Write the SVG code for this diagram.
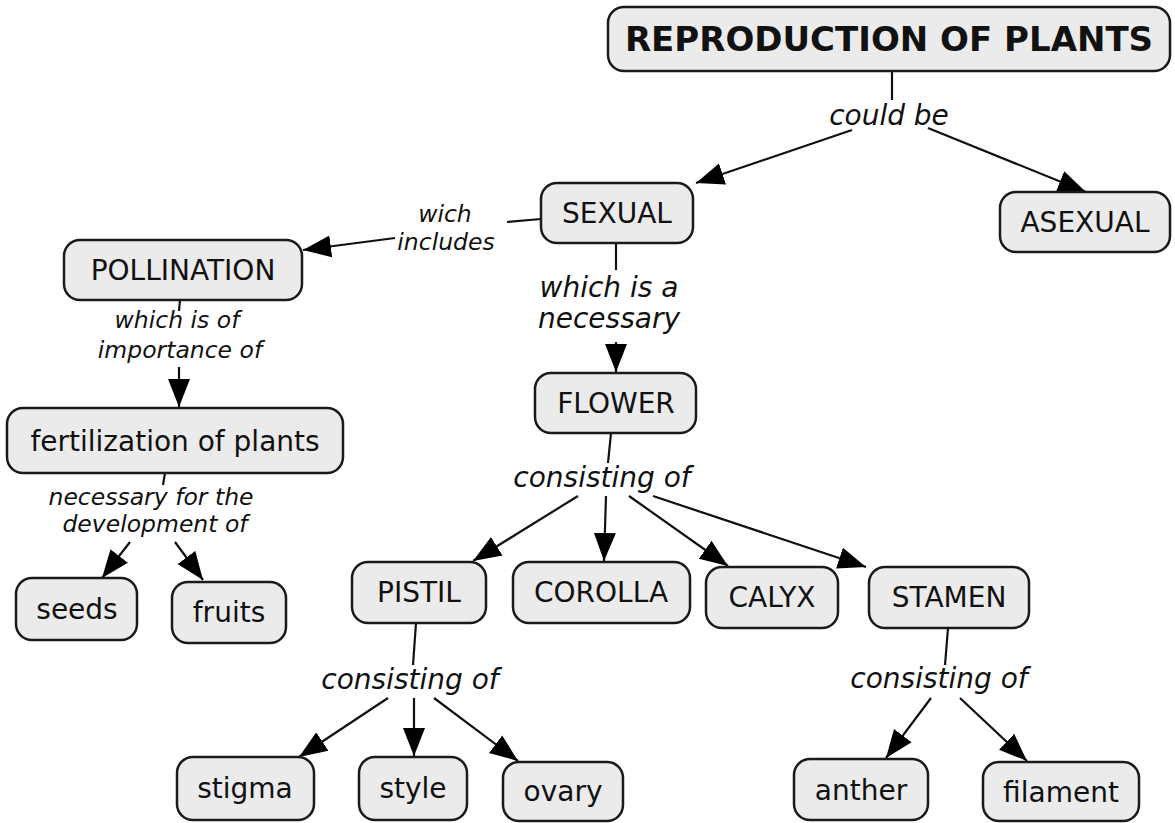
<svg xmlns="http://www.w3.org/2000/svg" width="1175" height="823" viewBox="0 0 1175 823">
<style>
.node rect{fill:#ebebeb;stroke:#1a1a1a;stroke-width:2.5}
.node text{font-family:"DejaVu Sans",Verdana,sans-serif;font-size:28px;fill:#111;text-anchor:middle}
.title text{font-weight:bold;font-size:34px}
.lbl{font-family:"DejaVu Sans",Verdana,sans-serif;font-style:italic;fill:#111;text-anchor:middle}
.l28{font-size:28px}
.l22{font-size:23.5px}
#connectors line{stroke:#111;stroke-width:2.2;fill:none}
#connectors line.arr{marker-end:url(#ah)}
</style>
<defs>
<marker id="ah" markerUnits="userSpaceOnUse" markerWidth="29" markerHeight="24" refX="28" refY="12" orient="auto">
<path d="M0,1 L28,12 L0,23 z" fill="#000"/>
</marker>
</defs>
<rect width="1175" height="823" fill="#fff"/>
<g id="connectors">
<line x1="892" y1="71" x2="892" y2="100"/>
<line class="arr" x1="852" y1="130" x2="696" y2="183"/>
<line class="arr" x1="928" y1="128" x2="1086" y2="192"/>
<line x1="541" y1="219" x2="507" y2="222"/>
<line class="arr" x1="395" y1="238" x2="303" y2="250"/>
<line x1="616" y1="243" x2="616" y2="270"/>
<line class="arr" x1="616" y1="342" x2="616" y2="372"/>
<line x1="180" y1="300" x2="179" y2="311"/>
<line class="arr" x1="179" y1="367" x2="179" y2="407"/>
<line x1="165" y1="473" x2="163" y2="485"/>
<line class="arr" x1="130" y1="542" x2="102" y2="578"/>
<line class="arr" x1="175" y1="542" x2="203" y2="580"/>
<line x1="611" y1="433" x2="608" y2="463"/>
<line class="arr" x1="578" y1="496" x2="473" y2="561"/>
<line class="arr" x1="606" y1="496" x2="604" y2="561"/>
<line class="arr" x1="629" y1="496" x2="728" y2="566"/>
<line class="arr" x1="653" y1="496" x2="866" y2="567"/>
<line x1="416" y1="623" x2="413" y2="665"/>
<line class="arr" x1="388" y1="698" x2="299" y2="757"/>
<line class="arr" x1="414" y1="698" x2="414" y2="756"/>
<line class="arr" x1="434" y1="698" x2="518" y2="761"/>
<line x1="948" y1="628" x2="945" y2="665"/>
<line class="arr" x1="931" y1="698" x2="886" y2="758"/>
<line class="arr" x1="960" y1="698" x2="1027" y2="761"/>
</g>
<g id="link-labels">
<text class="lbl l28" x="889" y="125">could be</text>
<text class="lbl l22" x="445" y="222">wich</text>
<text class="lbl l22" x="446" y="250">includes</text>
<text class="lbl l28" x="609" y="297">which is a</text>
<text class="lbl l28" x="609" y="328">necessary</text>
<text class="lbl l22" x="177" y="328">which is of</text>
<text class="lbl l22" x="180" y="358">importance of</text>
<text class="lbl l22" x="151" y="505">necessary for the</text>
<text class="lbl l22" x="155" y="532">development of</text>
<text class="lbl l28" x="602" y="487">consisting of</text>
<text class="lbl l28" x="410" y="689">consisting of</text>
<text class="lbl l28" x="939" y="688">consisting of</text>
</g>
<g id="n-title" class="node title"><rect x="608" y="7" width="562" height="64" rx="16"/><text x="889" y="51">REPRODUCTION OF PLANTS</text></g>
<g id="n-sexual" class="node"><rect x="541" y="183" width="152" height="60" rx="16"/><text x="617" y="223">SEXUAL</text></g>
<g id="n-asexual" class="node"><rect x="1000" y="192" width="170" height="60" rx="16"/><text x="1085" y="232">ASEXUAL</text></g>
<g id="n-pollination" class="node"><rect x="64" y="240" width="238" height="60" rx="16"/><text x="183" y="280">POLLINATION</text></g>
<g id="n-fertilization" class="node"><rect x="7" y="408" width="336" height="65" rx="16"/><text x="175" y="451">fertilization of plants</text></g>
<g id="n-seeds" class="node"><rect x="16" y="578" width="121" height="62" rx="16"/><text x="77" y="619">seeds</text></g>
<g id="n-fruits" class="node"><rect x="172" y="582" width="114" height="61" rx="16"/><text x="229" y="622">fruits</text></g>
<g id="n-flower" class="node"><rect x="535" y="373" width="161" height="60" rx="16"/><text x="616" y="413">FLOWER</text></g>
<g id="n-pistil" class="node"><rect x="352" y="562" width="134" height="61" rx="16"/><text x="419" y="602">PISTIL</text></g>
<g id="n-corolla" class="node"><rect x="513" y="562" width="177" height="61" rx="16"/><text x="601" y="602">COROLLA</text></g>
<g id="n-calyx" class="node"><rect x="706" y="567" width="132" height="61" rx="16"/><text x="772" y="607">CALYX</text></g>
<g id="n-stamen" class="node"><rect x="869" y="567" width="160" height="61" rx="16"/><text x="949" y="607">STAMEN</text></g>
<g id="n-stigma" class="node"><rect x="177" y="757" width="137" height="63" rx="16"/><text x="245" y="798">stigma</text></g>
<g id="n-style" class="node"><rect x="359" y="757" width="108" height="63" rx="16"/><text x="413" y="798">style</text></g>
<g id="n-ovary" class="node"><rect x="503" y="762" width="120" height="59" rx="16"/><text x="563" y="801">ovary</text></g>
<g id="n-anther" class="node"><rect x="794" y="759" width="134" height="61" rx="16"/><text x="861" y="800">anther</text></g>
<g id="n-filament" class="node"><rect x="983" y="762" width="156" height="59" rx="16"/><text x="1061" y="802">filament</text></g>
</svg>
